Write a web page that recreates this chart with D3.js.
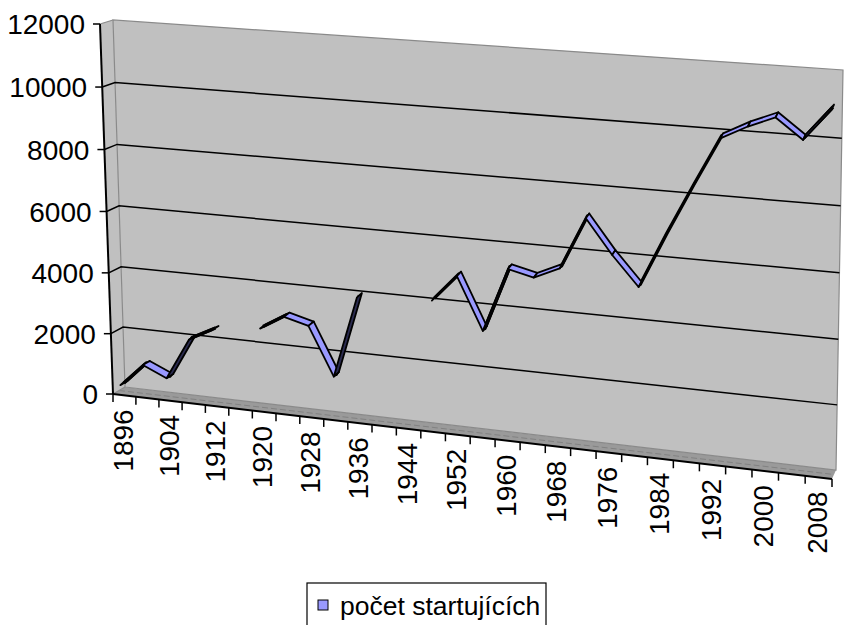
<!DOCTYPE html>
<html>
<head>
<meta charset="utf-8">
<script src="https://cdn.jsdelivr.net/npm/d3@7"></script>
<style>
  body { margin: 0; background: #fff; }
  text { font-family: "Liberation Sans", Arial, sans-serif; fill: #000; }
</style>
</head>
<body>
<script>
// Olympic games - number of starting athletes, Excel-like 3D line chart
var years = [1896, 1900, 1904, 1908, 1912, 1916, 1920, 1924, 1928, 1932, 1936, 1940, 1944, 1948,
             1952, 1956, 1960, 1964, 1968, 1972, 1976, 1980, 1984, 1988, 1992, 1996, 2000, 2004, 2008];
var athletes = [241, 997, 651, 2008, 2407, null, 2626, 3089, 2883, 1332, 3963, null, null, 4104,
                4955, 3314, 5338, 5151, 5516, 7134, 6084, 5179, 6829, 8391, 9900, 10318, 10651, 10050, 11000];
var valueTicks = [0, 2000, 4000, 6000, 8000, 10000, 12000];
var seriesName = "počet startujících";

var width = 846, height = 625;

var svg = d3.select("body").append("svg")
	.attr("width", width)
	.attr("height", height);

// unit square -> quad (p0 = u0v0, p1 = u1v0, p2 = u1v1, p3 = u0v1)
function homography(p0, p1, p2, p3) {
	var dx1 = p1[0] - p2[0], dx2 = p3[0] - p2[0], dx3 = p0[0] - p1[0] + p2[0] - p3[0];
	var dy1 = p1[1] - p2[1], dy2 = p3[1] - p2[1], dy3 = p0[1] - p1[1] + p2[1] - p3[1];
	var den = dx1 * dy2 - dx2 * dy1;
	var g = (dx3 * dy2 - dx2 * dy3) / den;
	var h = (dx1 * dy3 - dx3 * dy1) / den;
	var a = p1[0] - p0[0] + g * p1[0], b = p3[0] - p0[0] + h * p3[0], c = p0[0];
	var d = p1[1] - p0[1] + g * p1[1], e = p3[1] - p0[1] + h * p3[1], f = p0[1];
	return function(u, v) {
		var q = g * u + h * v + 1;
		return [(a * u + b * v + c) / q, (d * u + e * v + f) / q];
	};
}

// back wall and front plane of the 3d box
var back = homography([125, 387], [836, 470], [843, 70], [113, 20]);
var front = homography([113, 394], [832, 479], [839, 79], [100, 24]);

// w = 0 front, w = 1 back
function P(u, v, w) {
	var f = front(u, v), b = back(u, v);
	return [f[0] + (b[0] - f[0]) * w, f[1] + (b[1] - f[1]) * w];
}

var yScale = d3.scaleLinear().domain([0, 12000]).range([0, 1]);
var xData = d3.scaleLinear().domain([0, years.length - 1]).range([0.006, 0.99]);
var xBand = d3.scaleBand().domain(years).range([0, 1]);

var line = d3.line();
var poly = function(pts) { return line(pts) + "Z"; };

// floor
svg.append("path")
	.attr("d", poly([P(0, 0, 0), P(1, 0, 0), P(1, 0, 1), P(0, 0, 1)]))
	.attr("fill", "#9a9a9a")
	.attr("stroke", "none");
svg.append("path")
	.attr("d", line([P(0, 0, 0.5), P(1, 0, 0.5)]))
	.attr("stroke", "#828282").attr("stroke-width", 1).attr("stroke-dasharray", "6,3")
	.attr("fill", "none");

// side wall
svg.append("path")
	.attr("d", poly([P(0, 0, 0), P(0, 0, 1), P(0, 1, 1), P(0, 1, 0)]))
	.attr("fill", "#c0c0c0");

// back wall
svg.append("path")
	.attr("d", poly([back(0, 0), back(1, 0), back(1, 1), back(0, 1)]))
	.attr("fill", "#c0c0c0")
	.attr("stroke", "#8a8a8a")
	.attr("stroke-width", 1.2);

// edges of side wall
svg.append("path")
	.attr("d", line([P(0, 1, 0), P(0, 1, 1)]))
	.attr("stroke", "#8a8a8a").attr("stroke-width", 1.2).attr("fill", "none");
svg.append("path")
	.attr("d", line([P(0, 0, 0), P(0, 0, 1)]))
	.attr("stroke", "#8a8a8a").attr("stroke-width", 1.2).attr("fill", "none");

// gridlines: side wall and back wall
var inner = valueTicks.filter(function(t) { return t > 0 && t < 12000; });
svg.append("g").selectAll("path")
	.data(inner)
	.enter().append("path")
	.attr("d", function(t) {
		var v = yScale(t);
		return line([P(0, v, 0), P(0, v, 1), P(1, v, 1)]);
	})
	.attr("fill", "none")
	.attr("stroke", "#000")
	.attr("stroke-width", 1.5);

// floor front edge + category ticks
svg.append("path")
	.attr("d", line([P(0, 0, 0), P(1, 0, 0)]))
	.attr("stroke", "#000").attr("stroke-width", 2).attr("fill", "none");

var tickPos = years.map(function(y) { return xBand(y); }).concat([1]);
svg.append("g").selectAll("path")
	.data(tickPos)
	.enter().append("path")
	.attr("d", function(u) {
		var p = P(u, 0, 0);
		return line([p, [p[0], p[1] + 8]]);
	})
	.attr("stroke", "#000").attr("stroke-width", 1.5);

// category labels (every second)
svg.append("g").selectAll("text")
	.data(years.filter(function(y, i) { return i % 2 === 0; }))
	.enter().append("text")
	.attr("transform", function(y) {
		var p = P(xBand(y) + xBand.bandwidth() / 2, 0, 0);
		return "translate(" + (p[0] - 1) + "," + (p[1] + 14) + ") rotate(-90)";
	})
	.attr("text-anchor", "end")
	.attr("dy", "0.33em")
	.attr("font-size", 28)
	.text(function(y) { return y; });

// value axis
svg.append("path")
	.attr("d", line([P(0, 0, 0), P(0, 1, 0)]))
	.attr("stroke", "#000").attr("stroke-width", 2).attr("fill", "none");

svg.append("g").selectAll("path")
	.data(valueTicks)
	.enter().append("path")
	.attr("d", function(t) {
		var p = P(0, yScale(t), 0);
		return line([[p[0] - 7, p[1]], p]);
	})
	.attr("stroke", "#000").attr("stroke-width", 1.5);

svg.append("g").selectAll("text")
	.data(valueTicks)
	.enter().append("text")
	.attr("x", function(t) { return P(0, yScale(t), 0)[0] - 15; })
	.attr("y", function(t) { return P(0, yScale(t), 0)[1]; })
	.attr("dy", "0.36em")
	.attr("text-anchor", "end")
	.attr("font-size", 28)
	.text(function(t) { return t; });

// data ribbon
var wFront = 0.3, wBack = 0.9;
var segs = [], runs = [], run = [];
athletes.forEach(function(val, i) {
	if (val === null) { if (run.length) runs.push(run); run = []; return; }
	run.push(P(xData(i), yScale(val), (wFront + wBack) / 2));
	if (i === 0 || athletes[i - 1] === null) return;
	var u0 = xData(i - 1), u1 = xData(i);
	var v0 = yScale(athletes[i - 1]), v1 = yScale(val);
	var f0 = P(u0, v0, wFront), f1 = P(u1, v1, wFront);
	var b0 = P(u0, v0, wBack), b1 = P(u1, v1, wBack);
	var sx = f1[0] - f0[0], sy = f1[1] - f0[1];
	var dx = b0[0] - f0[0], dy = b0[1] - f0[1];
	segs.push({ pts: [f0, f1, b1, b0], top: (sx * dy - sy * dx) < 0 });
});
if (run.length) runs.push(run);

// thick core so edge-on parts still read as a heavy line
svg.append("g").selectAll("path")
	.data(runs)
	.enter().append("path")
	.attr("d", line)
	.attr("fill", "none")
	.attr("stroke", "#000")
	.attr("stroke-width", 3.4)
	.attr("stroke-linejoin", "round");

svg.append("g").selectAll("path")
	.data(segs)
	.enter().append("path")
	.attr("d", function(s) { return poly(s.pts); })
	.attr("fill", function(s) { return s.top ? "#9999ff" : "#2b2b50"; })
	.attr("stroke", "#000")
	.attr("stroke-width", 1.8)
	.attr("stroke-linejoin", "round");

// legend
var legend = svg.append("g");
legend.append("rect")
	.attr("x", 307).attr("y", 583).attr("width", 239).attr("height", 60)
	.attr("fill", "#fff").attr("stroke", "#000").attr("stroke-width", 1.2);
legend.append("rect")
	.attr("x", 318).attr("y", 600).attr("width", 10).attr("height", 10)
	.attr("fill", "#9999ff").attr("stroke", "#000").attr("stroke-width", 1);
legend.append("text")
	.attr("x", 340).attr("y", 615)
	.attr("font-size", 26.5)
	.text(seriesName);
</script>
</body>
</html>
